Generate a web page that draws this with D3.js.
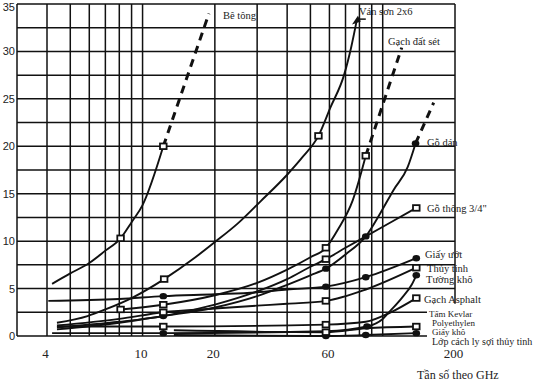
<!DOCTYPE html>
<html><head><meta charset="utf-8">
<script src="https://cdn.jsdelivr.net/npm/d3@7"></script>
<style>html,body{margin:0;padding:0;background:#fff;overflow:hidden;}</style>
</head><body>
<svg id="c" width="539" height="381"></svg>
<script>
// ---------- data ----------
const xTickLabels = [4, 10, 20, 60, 200];
const xGridValues = [3,4,5,6,7,8,9,10,20,30,40,50,60,70,80,90,100,200];
const yTickLabels = [0,5,10,15,20,25,30,35];
const yGridValues = [0,2.5,5,7.5,10,12.5,15,17.5,20,22.5,25,27.5,30,32.5,35];
const xAxisTitle = "Tần số theo GHz";

// series: [frequency GHz, attenuation]
const beTong       = [[4.2,5.5],[5,6.6],[6,7.7],[7,9.0],[8.1,10.3],[9,12.0],[10,13.8],[12.2,20]];
const beTongDash   = [[12.2,20],[18.9,34]];
const vanSon       = [[4.4,1.4],[5.9,2.1],[7,2.8],[9,4.0],[12.3,6.0],[16.6,8.3],[20,9.9],[25,11.9],[31,14.2],[40,17.0],[46.5,18.9],[54,21.1],[60.6,24.1],[69,27.5],[74,30.5],[78,33.3]];
const gachDatSet   = [[8.1,2.8],[12.2,3.3],[20,4.3],[30,5.6],[40,7.0],[50,8.3],[58,9.3],[65,11.2],[75,14.3],[85,19]];
const gachDatSetDash = [[85,19],[120,30.4]];
const goDan        = [[4.4,0.7],[8,1.4],[12.2,2.1],[20,3.0],[30,4.2],[40,5.4],[50,6.4],[58,7.1],[70,8.6],[85,10.5],[98,13],[111,15.4],[127,17.8],[137,20.3]];
const goDanDash    = [[137,20.3],[163,24.6]];
const goThong      = [[4.4,0.9],[8,1.5],[12.2,2.1],[20,3.3],[30,4.7],[40,6.0],[50,7.3],[58,8.1],[70,9.3],[85,10.5],[110,12.1],[138,13.5]];
const giayUot      = [[4.05,3.7],[8,3.9],[12.2,4.2],[20,4.4],[30,4.6],[40,4.9],[58,5.2],[85,6.2],[138,8.2]];
const thuyTinh     = [[4.4,1.1],[8,1.8],[12.2,2.5],[20,2.9],[30,3.2],[40,3.4],[58,3.7],[85,4.9],[138,7.2]];
const tuongKho     = [[4.2,0.3],[12.2,0.3],[58,0.5],[86,1.0],[100,1.8],[108,2.7],[120,4.0],[132,5.4],[138,6.4]];
const gachAsphalt  = [[4.4,1.0],[12.2,1.0],[58,1.2],[85,1.5],[108,2.5],[138,4.0]];
const polyethylen  = [[13.5,0.6],[58,0.4],[85,0.8],[138,1.0]];
const giayKho      = [[13.5,0.1],[58,0.0],[85,0.1],[138,0.3]];

// marker frequencies per series
const beTongMarks      = [8.1, 12.2];
const vanSonMarks      = [12.3, 54];
const gachDatSetMarks  = [8.1, 12.2, 58, 85];
const goDanMarks       = [12.2, 58, 85, 137];
const goThongMarks     = [58, 138];
const giayUotMarks     = [12.2, 58, 85, 138];
const thuyTinhMarks    = [12.2, 58, 138];
const tuongKhoMarks    = [12.2, 86, 138];
const gachAsphaltMarks = [12.2, 58, 138];
const polyethylenMarks = [58, 138];
const giayKhoMarks     = [58, 85, 138];

const seriesLabels = ["Bê tông","Ván sơn 2x6","Gạch đất sét","Gỗ dán","Gỗ thông 3/4\"","Giấy ướt","Thủy tinh","Tường khô","Gạch Asphalt","Tấm Kevlar","Polyethylen","Giấy khô","Lớp cách ly sợi thủy tinh"];

// ---------- layout ----------
const labelPos = [[223,19],[359,15],[388,45],[427,146],[427,212],[425,258],[427,272],[426,283],[424,303],[429,317],[432,326],[432,335],[432,345]];
const labelSize = [10.5,10.5,10.5,10.5,10.5,10.5,10.5,10.5,10.5,9,9,9,10];

const svg = d3.select("#c");
const x = d3.scaleLog().domain([3,200]).range([17,455]);
const y = d3.scaleLinear().domain([0,35]).range([336,4]);
const INK = "#111";

// grid
const g = svg.append("g");
g.selectAll("line.v").data(xGridValues).join("line")
  .attr("x1", d=>x(d)).attr("x2", d=>x(d))
  .attr("y1", y(35)).attr("y2", d => d===200 ? y(3.4) : y(0))
  .attr("stroke", INK).attr("stroke-width", 1.5);
g.selectAll("line.h").data(yGridValues).join("line")
  .attr("x1", x(3)).attr("x2", d => d < 5 ? 427 : x(200))
  .attr("y1", d=>y(d)).attr("y2", d=>y(d))
  .attr("stroke", INK).attr("stroke-width", 1.5);

// axes text
const xAxis = d3.axisBottom(x).tickValues(xTickLabels).tickFormat(d3.format("d")).tickSize(0).tickPadding(13);
const xa = svg.append("g").attr("transform", `translate(-2,${y(0)})`).call(xAxis);
xa.select(".domain").remove();
xa.selectAll("text").attr("font-family","'Liberation Serif','Times New Roman',serif").attr("font-size",13).attr("fill","#222");

const yAxis = d3.axisLeft(y).tickValues(yTickLabels).tickSize(0).tickPadding(2);
const ya = svg.append("g").attr("transform", `translate(${x(3)},0)`).call(yAxis);
ya.select(".domain").remove();
ya.selectAll("text").attr("font-family","'Liberation Sans',Arial,sans-serif").attr("font-size",11).attr("fill","#222")
  .attr("dy", d => d===35 ? "0.55em" : "0.32em");

svg.append("text").attr("x",417).attr("y",379).text(xAxisTitle)
  .attr("font-family","'Liberation Serif','Times New Roman',serif").attr("font-size",12).attr("fill","#222");

// lines
const line = d3.line().x(d=>x(d[0])).y(d=>y(d[1])).curve(d3.curveMonotoneX);
const solidSeries = [beTong, vanSon, gachDatSet, goDan, goThong, giayUot, thuyTinh, tuongKho, gachAsphalt, polyethylen, giayKho];
const dashSeries = [beTongDash, gachDatSetDash, goDanDash];
svg.append("g").selectAll("path").data(solidSeries).join("path")
  .attr("d", line).attr("fill","none").attr("stroke",INK).attr("stroke-width",1.9);
svg.append("g").selectAll("path").data(dashSeries).join("path")
  .attr("d", d3.line().x(d=>x(d[0])).y(d=>y(d[1])))
  .attr("fill","none").attr("stroke",INK).attr("stroke-width",3).attr("stroke-dasharray","8,6");

// markers
function pts(series, marks){ return marks.map(f => series.find(p => p[0]===f)); }
const squareGroups = [[beTong,beTongMarks],[vanSon,vanSonMarks],[gachDatSet,gachDatSetMarks],[goThong,goThongMarks],[thuyTinh,thuyTinhMarks],[gachAsphalt,gachAsphaltMarks],[polyethylen,polyethylenMarks]];
const dotGroups = [[goDan,goDanMarks],[giayUot,giayUotMarks],[tuongKho,tuongKhoMarks],[giayKho,giayKhoMarks]];
const squares = squareGroups.flatMap(([s,m]) => pts(s,m));
const dots = dotGroups.flatMap(([s,m]) => pts(s,m));
svg.append("g").selectAll("ellipse").data(dots).join("ellipse")
  .attr("cx", d=>x(d[0])).attr("cy", d=>y(d[1])).attr("rx",3.8).attr("ry",3.2).attr("fill",INK);
svg.append("g").selectAll("rect").data(squares).join("rect")
  .attr("x", d=>x(d[0])-3.3).attr("y", d=>y(d[1])-2.8).attr("width",6.6).attr("height",5.6)
  .attr("fill","#fff").attr("stroke",INK).attr("stroke-width",1.8);

// Ván sơn end marker and Gỗ dán leader
const vsEnd = vanSon[vanSon.length-1];
svg.append("path").attr("d", `M${x(vsEnd[0])-3},${y(vsEnd[1])+3}L${x(vsEnd[0])+1},${y(vsEnd[1])-3}L${x(vsEnd[0])+3},${y(vsEnd[1])+1}Z`).attr("fill",INK).attr("stroke",INK).attr("stroke-width",1.5);
svg.append("line").attr("x1",x(vsEnd[0])).attr("x2",x(vsEnd[0])+9).attr("y1",y(vsEnd[1])-1).attr("y2",y(vsEnd[1])-1).attr("stroke",INK).attr("stroke-width",1.5);
const gdEnd = goDan[goDan.length-1];
svg.append("line").attr("x1",x(gdEnd[0])+3).attr("x2",labelPos[3][0]).attr("y1",y(gdEnd[1])+3).attr("y2",y(gdEnd[1])+3).attr("stroke",INK).attr("stroke-width",1);

// labels
svg.append("g").selectAll("text").data(seriesLabels).join("text")
  .attr("x",(d,i)=>labelPos[i][0]).attr("y",(d,i)=>labelPos[i][1]).text(d=>d)
  .attr("font-family","'Liberation Serif','Times New Roman',serif").attr("font-size",(d,i)=>labelSize[i]).attr("fill","#222");
</script>
</body></html>
